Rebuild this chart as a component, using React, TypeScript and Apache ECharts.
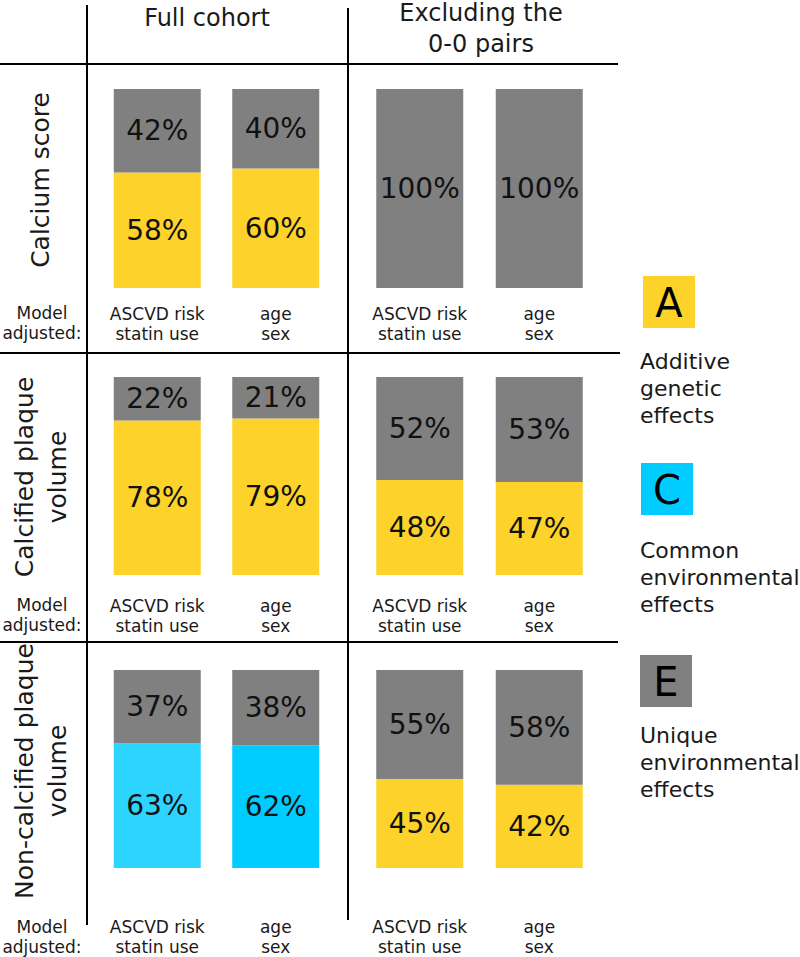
import React, { useEffect, useRef } from "react";
import * as echarts from "echarts";

const CATEGORIES = ["ASCVD risk\nstatin use", "age\nsex"];
const COLUMN_TITLES = ["Full cohort", "Excluding the\n0-0 pairs"];
const ROW_TITLES = ["Calcium score", "Calcified plaque\nvolume", "Non-calcified plaque\nvolume"];
const COMPONENTS = ["A", "C", "E"];
const LEGEND_TEXTS = ["Additive\ngenetic\neffects", "Common\nenvironmental\neffects", "Unique\nenvironmental\neffects"];

// panel order: row1 full, row1 excl, row2 full, row2 excl, row3 full, row3 excl
const A_VALUES = [[58, 60], [0, 0], [78, 79], [48, 47], [0, 0], [45, 42]];
const C_VALUES = [[0, 0], [0, 0], [0, 0], [0, 0], [63, 62], [0, 0]];
const E_VALUES = [[42, 40], [100, 100], [22, 21], [52, 53], [37, 38], [55, 58]];

const FONT = "DejaVu Sans";
const COLORS: Record<string, string> = { A: "#FDD32B", C: "#00CCFF", E: "#808080" };
const C_FIRST_BAR = "#2DD4FF";

const COL_LEFT = [98, 360];
const COL_WIDTH = [237, 239];
const ROW_TOP = [89, 377, 670];
const ROW_HEIGHT = [199, 198, 198];
const LABEL_MARGIN = [16, 21, 49];
const MODEL_Y = [323, 615, 937];

export default function App() {
  const ref = useRef<HTMLDivElement>(null);
  useEffect(() => {
    if (!ref.current) return;
    const chart = echarts.init(ref.current, null, { renderer: "svg" });
    const grids: any[] = [];
    const xAxes: any[] = [];
    const yAxes: any[] = [];
    const series: any[] = [];
    const valueSets: Record<string, number[][]> = { A: A_VALUES, C: C_VALUES, E: E_VALUES };
    for (let p = 0; p < 6; p++) {
      const r = Math.floor(p / 2);
      const c = p % 2;
      grids.push({ left: COL_LEFT[c], width: COL_WIDTH[c], top: ROW_TOP[r], height: ROW_HEIGHT[r] });
      xAxes.push({
        type: "category",
        gridIndex: p,
        data: CATEGORIES,
        axisLine: { show: false },
        axisTick: { show: false },
        splitLine: { show: false },
        axisLabel: {
          interval: 0,
          margin: LABEL_MARGIN[r],
          fontFamily: FONT,
          fontSize: 17,
          lineHeight: 20,
          color: "#1a1a1a",
        },
      });
      yAxes.push({ type: "value", gridIndex: p, min: 0, max: 100, show: false, splitLine: { show: false } });
      COMPONENTS.forEach((k) => {
        const vals = valueSets[k][p];
        series.push({
          type: "bar",
          name: k,
          stack: "s" + p,
          xAxisIndex: p,
          yAxisIndex: p,
          barWidth: 87,
          data: vals.map((v, i) => ({
            value: v,
            itemStyle: { color: k === "C" && i === 0 ? C_FIRST_BAR : COLORS[k] },
          })),
          label: {
            show: true,
            position: "inside",
            fontFamily: FONT,
            fontSize: 28,
            color: "#111",
            formatter: (d: any) => (d.value > 0 ? d.value + "%" : ""),
          },
        });
      });
    }

    const line = (x1: number, y1: number, x2: number, y2: number) => ({
      type: "line",
      shape: { x1, y1, x2, y2 },
      style: { stroke: "#000", lineWidth: 2 },
    });
    const graphics: any[] = [
      line(87, 5, 87, 925),
      line(348, 8, 348, 920),
      line(0, 64, 618, 64),
      line(0, 353, 620, 353),
      line(0, 642, 618, 642),
      {
        type: "text", x: 207, y: 18,
        style: { text: COLUMN_TITLES[0], font: `24px "${FONT}"`, fill: "#1a1a1a", textAlign: "center", textVerticalAlign: "middle" },
      },
      {
        type: "text", x: 481, y: 28,
        style: { text: COLUMN_TITLES[1], font: `24px "${FONT}"`, fill: "#1a1a1a", textAlign: "center", textVerticalAlign: "middle", lineHeight: 31 },
      },
    ];
    const rowCenters = [[40, 180], [41, 477], [41, 771]];
    ROW_TITLES.forEach((t, i) => {
      graphics.push({
        type: "text", x: rowCenters[i][0], y: rowCenters[i][1], rotation: Math.PI / 2,
        style: { text: t, font: `25px "${FONT}"`, fill: "#1a1a1a", textAlign: "center", textVerticalAlign: "middle", lineHeight: 33 },
      });
      graphics.push({
        type: "text", x: 42, y: MODEL_Y[i],
        style: { text: "Model\nadjusted:", font: `17px "${FONT}"`, fill: "#1a1a1a", textAlign: "center", textVerticalAlign: "middle", lineHeight: 20 },
      });
    });
    const legendBoxes = [[643, 276], [641, 463], [640, 655]];
    const legendTextY = [388, 577, 762];
    COMPONENTS.forEach((k, i) => {
      const [bx, by] = legendBoxes[i];
      graphics.push({ type: "rect", shape: { x: bx, y: by, width: 52, height: 52 }, style: { fill: COLORS[k] } });
      graphics.push({
        type: "text", x: bx + 26, y: by + 27,
        style: { text: k, font: `40px "${FONT}"`, fill: "#000", textAlign: "center", textVerticalAlign: "middle" },
      });
      graphics.push({
        type: "text", x: 640, y: legendTextY[i],
        style: { text: LEGEND_TEXTS[i], font: `22px "${FONT}"`, fill: "#1a1a1a", textAlign: "left", textVerticalAlign: "middle", lineHeight: 27 },
      });
    });

    chart.setOption({
      animation: false,
      backgroundColor: "#fff",
      grid: grids,
      xAxis: xAxes,
      yAxis: yAxes,
      series,
      graphic: graphics,
    });
    return () => chart.dispose();
  }, []);
  return <div ref={ref} style={{ position: "absolute", left: 0, top: 0, width: 800, height: 957 }} />;
}
